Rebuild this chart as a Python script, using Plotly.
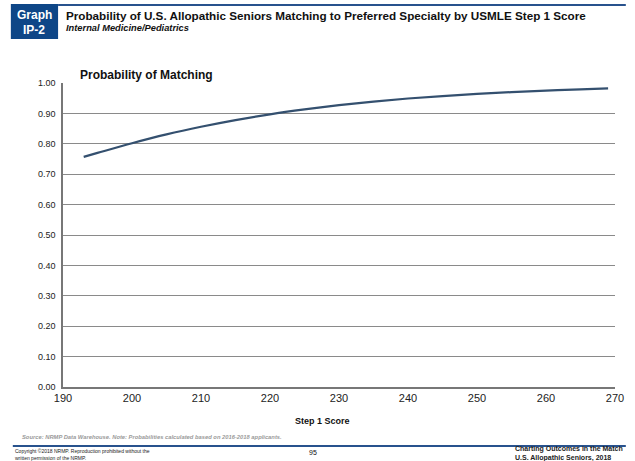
import plotly.graph_objects as go

scores = [193, 195, 200, 205, 210, 215, 220, 225, 230, 235, 240, 245, 250, 255, 260, 265, 269]
prob = [0.757, 0.770, 0.802, 0.831, 0.856, 0.878, 0.897, 0.913, 0.927, 0.939, 0.949, 0.957, 0.964, 0.970, 0.975, 0.979, 0.982]
x_ticks = [190, 200, 210, 220, 230, 240, 250, 260, 270]
y_ticks = [0.0, 0.1, 0.2, 0.3, 0.4, 0.5, 0.6, 0.7, 0.8, 0.9, 1.0]

FONT = "Liberation Sans, Arial, sans-serif"
fig = go.Figure()
fig.add_trace(go.Scatter(x=scores, y=prob, mode="lines", line=dict(color="#34506f", width=2.2, shape="spline"),
                         showlegend=False, hoverinfo="skip"))

fig.update_layout(
    width=635, height=461,
    margin=dict(l=63, r=11, t=83, b=74),
    paper_bgcolor="white", plot_bgcolor="white",
    font=dict(family=FONT, color="#222"),
    xaxis=dict(range=[190, 270], tickvals=x_ticks, ticktext=[str(v) for v in x_ticks],
               showgrid=False, zeroline=False, showline=True, linecolor="#777", linewidth=1.5,
               ticks="", tickfont=dict(size=11, color="#222"), ticklabelstandoff=0),
    yaxis=dict(range=[0, 1.0], tickvals=y_ticks, ticktext=[f"{v:.2f}" for v in y_ticks],
               showgrid=True, gridcolor="#8a8a8a", gridwidth=1.2, zeroline=False,
               showline=True, linecolor="#777", linewidth=1.5, ticks="",
               tickfont=dict(size=9, color="#222"), ticklabelstandoff=4),
)

def dx(px):
    return (px - 63) / 561

def dy(py):
    return (387 - py) / 304

shapes = [
    dict(type="rect", xref="x domain", yref="y domain", layer="above",
         x0=dx(10), x1=dx(58), y0=dy(39), y1=dy(4),
         fillcolor="#0e4687", line=dict(width=0)),
    dict(type="line", xref="x domain", yref="y domain",
         x0=dx(58), x1=dx(635), y0=dy(5), y1=dy(5),
         line=dict(color="#28528d", width=2)),
    dict(type="line", xref="x domain", yref="y domain",
         x0=dx(12), x1=dx(635), y0=dy(446), y1=dy(446),
         line=dict(color="#28528d", width=2)),
]
fig.update_layout(shapes=shapes)

def ann(text, px, py, size, bold=False, italic=False, color="#111", xanchor="left", yanchor="middle"):
    t = text
    if bold:
        t = f"<b>{t}</b>"
    if italic:
        t = f"<i>{t}</i>"
    fig.add_annotation(text=t, xref="x domain", yref="y domain",
                       x=dx(px), y=dy(py), showarrow=False, align="left",
                       xanchor=xanchor, yanchor=yanchor,
                       font=dict(family=FONT, size=size, color=color))

ann("Graph", 34, 15, 12, bold=True, color="white", xanchor="center")
ann("IP-2", 34, 30, 12, bold=True, color="white", xanchor="center")
ann("Probability of U.S. Allopathic Seniors Matching to Preferred Specialty by USMLE Step 1 Score", 64, 15, 11.7, bold=True)
ann("Internal Medicine/Pediatrics", 64, 28, 9.3, bold=True, italic=True)
ann("Probability of Matching", 78, 75, 12, bold=True)
ann("Step 1 Score", 327, 421, 9, bold=True, xanchor="center")
ann("Source: NRMP Data Warehouse. Note: Probabilities calculated based on 2016-2018 applicants.", 19, 437, 5.8, bold=True, italic=True, color="#9a9a9a")
ann("Copyright ©2018 NRMP. Reproduction prohibited without the<br>written permission of the NRMP.", 12, 454, 5, color="#222")
ann("95", 317, 452, 7, xanchor="center")
ann("Charting Outcomes in the Match<br>U.S. Allopathic Seniors, 2018", 520, 453.5, 7, bold=True, color="#222")

fig.write_html("out.html", config={"displayModeBar": False})

with open("out.html", "r", encoding="utf-8") as f:
    html = f.read()
html = html.replace("<head>", "<head><style>html,body{margin:0;padding:0;overflow:hidden;}</style>", 1)
with open("out.html", "w", encoding="utf-8") as f:
    f.write(html)
